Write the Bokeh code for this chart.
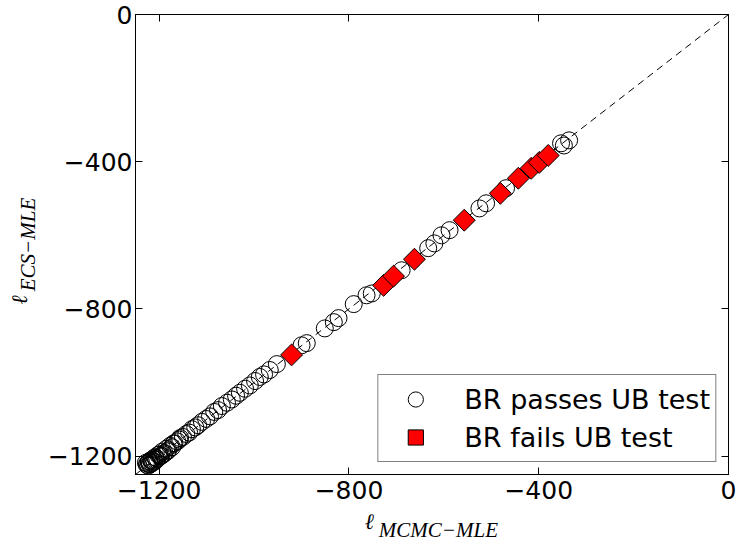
import numpy as np
from bokeh.plotting import figure
from bokeh.layouts import row, column
from bokeh.models import (LinearAxis, Range1d, FixedTicker, Legend,
                          LegendItem, ColumnDataSource)
from bokeh.core.properties import value
from bokeh.embed import file_html
from bokeh.resources import INLINE

# ---------------- data ----------------
pass_x = [-1228, -1226, -1225, -1223, -1222, -1221, -1220, -1219, -1217, -1216,
          -1215, -1213, -1212, -1210, -1209, -1208, -1206, -1204, -1202, -1200,
          -1198, -1196, -1194, -1191, -1189, -1185, -1183, -1181, -1177, -1173,
          -1170, -1168, -1162, -1158, -1156, -1150, -1143, -1137, -1131, -1124,
          -1118, -1110, -1101, -1093, -1084, -1076, -1068, -1057, -1047, -1038,
          -1030, -1019, -1009, -998, -988, -979, -967, -952, -900, -889,
          -851, -832, -822, -790, -763, -752, -689, -633, -620, -605,
          -588, -525, -511, -469, -353, -347, -336]
pass_y = [-1218, -1224, -1220, -1226, -1216, -1214, -1223, -1222, -1212, -1210,
          -1219, -1215, -1208, -1215, -1203, -1204, -1210, -1207, -1197, -1195,
          -1201, -1199, -1188, -1195, -1192, -1180, -1187, -1184, -1172, -1176,
          -1166, -1165, -1160, -1155, -1151, -1148, -1140, -1136, -1127, -1122,
          -1116, -1107, -1099, -1092, -1080, -1075, -1064, -1055, -1046, -1036,
          -1028, -1017, -1008, -996, -985, -978, -966, -950, -899, -893,
          -853, -836, -825, -787, -763, -758, -695, -635, -622, -600,
          -586, -527, -513, -472, -350, -356, -342]
fail_x = [-921, -727, -706, -662, -557, -481, -443, -416, -399, -380]
fail_y = [-925, -736, -711, -665, -559, -486, -445, -418, -402, -383]
diag = [-1250, 0]
ticks = [-1200, -800, -400, 0]
tick_text = ["−1200", "−800", "−400", "0"]
labels = ["BR passes UB test", "BR fails UB test"]
x_title = ["ℓ", "MCMC−MLE"]
y_title = ["ℓ", "ECS−MLE"]

W, H = 739, 544
YL_W = 44          # width of the strip holding the y title
XL_H = 34          # height of the strip holding the x title
F_LEFT, F_RIGHT, F_TOP, F_BOTTOM = 133, 11, 14, 70   # frame borders in the page

xr = Range1d(-1250, 0)
yr = Range1d(-1250, 0)

# ---------------- main figure ----------------
p = figure(width=W - YL_W, height=H - XL_H, output_backend="svg",
           toolbar_location=None, title=None, x_range=xr, y_range=yr,
           min_border_left=F_LEFT - YL_W, min_border_right=F_RIGHT,
           min_border_top=F_TOP, min_border_bottom=F_BOTTOM - XL_H)
p.background_fill_color = "white"
p.border_fill_color = "white"
p.outline_line_color = "black"
p.outline_line_width = 1
p.xgrid.visible = False
p.ygrid.visible = False

overrides = {t: s for t, s in zip(ticks, tick_text)}
for ax in (p.xaxis[0], p.yaxis[0]):
    ax.ticker = FixedTicker(ticks=ticks)
    ax.major_label_overrides = overrides
    ax.major_tick_in = 7
    ax.major_tick_out = 0
    ax.minor_tick_line_color = None
    ax.axis_line_color = "black"
    ax.major_tick_line_color = "black"
    ax.major_label_text_font = "DejaVu Sans"
    ax.major_label_text_font_size = "25px"
    ax.major_label_text_color = "black"
p.xaxis[0].major_label_standoff = 6
p.yaxis[0].major_label_standoff = 3

for loc in ("above", "right"):
    ax = LinearAxis(ticker=FixedTicker(ticks=ticks), major_tick_in=7,
                    major_tick_out=0, minor_tick_line_color=None,
                    major_label_text_font_size="1px", major_label_standoff=0,
                    major_label_text_color=None, axis_line_color="black")
    p.add_layout(ax, loc)

p.line(diag, diag, line_color="black", line_width=1, line_dash="7 5")

src_pass = ColumnDataSource(dict(x=pass_x, y=pass_y))
src_fail = ColumnDataSource(dict(x=fail_x, y=fail_y))
r_pass = p.scatter("x", "y", source=src_pass, marker="circle", size=17,
                   fill_color=None, line_color="black", line_width=1)
r_fail = p.scatter("x", "y", source=src_fail, marker="square", size=15.5,
                   angle=np.pi / 4, fill_color="#ff0000", line_color="black",
                   line_width=1)

legend = Legend(items=[LegendItem(label=labels[0], renderers=[r_pass]),
                       LegendItem(label=labels[1], renderers=[r_fail])],
                location="bottom_right", margin=12, padding=5, spacing=0,
                glyph_width=64, glyph_height=38, label_height=38,
                label_standoff=17, label_text_font="DejaVu Sans",
                label_text_font_size="27px", label_text_color="black",
                label_text_baseline="middle",
                border_line_color="black", border_line_width=1,
                background_fill_color="white", background_fill_alpha=1.0)
p.add_layout(legend, "center")


def strip(w, h, x_range, y_range, **borders):
    f = figure(width=w, height=h, output_backend="svg", toolbar_location=None,
               title=None, x_range=x_range, y_range=y_range,
               x_axis_type=None, y_axis_type=None, **borders)
    f.grid.visible = False
    f.outline_line_color = None
    f.background_fill_color = "white"
    f.border_fill_color = "white"
    return f


serif = "Liberation Serif"

# x-axis title strip: shares the main x range, frame aligned under the main frame
xl = strip(W - YL_W, XL_H, xr, Range1d(0, XL_H),
           min_border_left=F_LEFT - YL_W, min_border_right=F_RIGHT,
           min_border_top=0, min_border_bottom=0)
xl.text(x=[-767], y=[23], text=[x_title[0]], text_font=value(serif),
        text_font_style="italic", text_font_size="22px", text_color="black",
        text_align="left", text_baseline="alphabetic")
xl.text(x=[-737], y=[15], text=[x_title[1]], text_font=value(serif),
        text_font_style="italic", text_font_size="21px", text_color="black",
        text_align="left", text_baseline="alphabetic")

# y-axis title strip: shares the main y range, frame aligned beside the main frame
yl = strip(YL_W, H, Range1d(0, YL_W), yr,
           min_border_left=0, min_border_right=0,
           min_border_top=F_TOP, min_border_bottom=F_BOTTOM)
yl.text(x=[19], y=[-788], text=[y_title[0]], angle=np.pi / 2,
        text_font=value(serif), text_font_style="italic",
        text_font_size="22px", text_color="black",
        text_align="left", text_baseline="alphabetic")
yl.text(x=[27], y=[-752], text=[y_title[1]], angle=np.pi / 2,
        text_font=value(serif), text_font_style="italic",
        text_font_size="21px", text_color="black",
        text_align="left", text_baseline="alphabetic")

layout = row(yl, column(p, xl, spacing=0), spacing=0)

open("out.html", "w").write(file_html(layout, INLINE))
